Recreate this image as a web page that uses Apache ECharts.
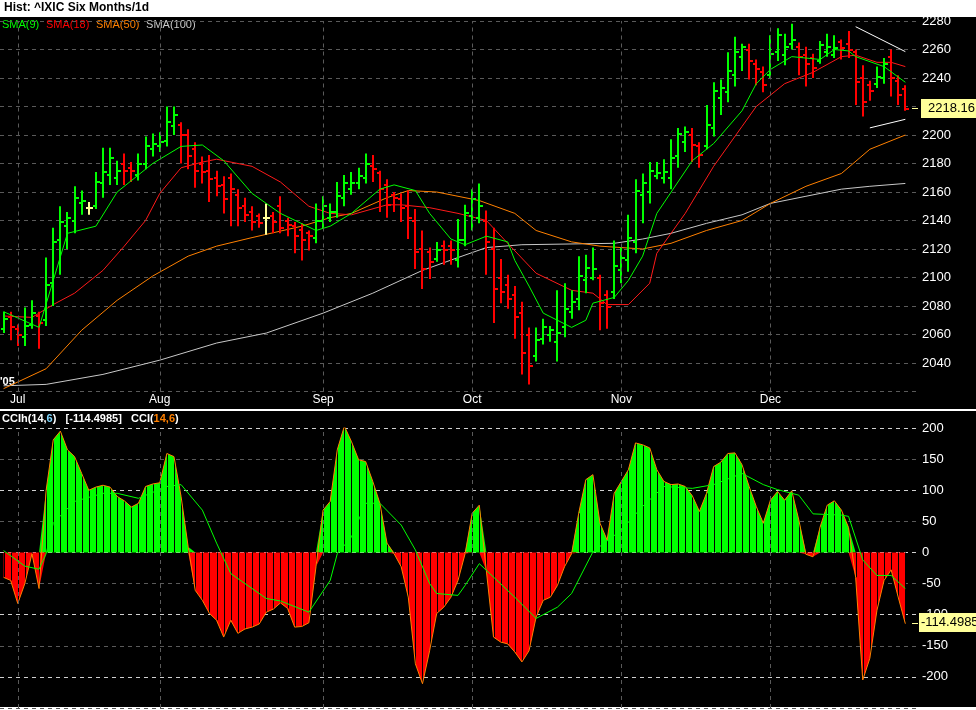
<!DOCTYPE html>
<html><head><meta charset="utf-8">
<script src="https://cdn.jsdelivr.net/npm/echarts@6/dist/echarts.min.js"></script>
<style>html,body{margin:0;padding:0;background:#fff;}#c{width:976px;height:710px;}</style>
</head><body><div id="c"></div>
<script>
// ---- DATA ----
const monthStarts = [2, 22, 45, 66, 87, 108];
const monthNames = ['Jul', 'Aug', 'Sep', 'Oct', 'Nov', 'Dec'];
const opens = [2064,2072,2064,2058,2067,2073,2070,2096,2126,2136,2140,2152,2149,2150,2166,2172,2170,2180,2177,2172,2180,2190,2192,2196,2206,2207,2200,2190,2180,2175,2170,2165,2170,2158,2150,2146,2143,2142,2143,2150,2140,2136,2133,2131,2128,2140,2142,2146,2156,2162,2166,2170,2178,2173,2165,2158,2155,2150,2140,2120,2118,2113,2122,2122,2112,2126,2143,2142,2140,2120,2100,2095,2088,2075,2060,2045,2057,2060,2055,2065,2076,2085,2098,2100,2100,2088,2090,2105,2112,2125,2158,2160,2171,2170,2170,2185,2195,2200,2192,2192,2205,2226,2230,2242,2255,2260,2250,2244,2242,2258,2256,2264,2262,2256,2254,2252,2258,2256,2265,2264,2258,2240,2235,2236,2240,2255,2238,2232];
const highs = [2076,2076,2067,2079,2084,2076,2114,2135,2150,2146,2164,2161,2153,2174,2191,2191,2182,2187,2181,2187,2199,2201,2202,2220,2220,2209,2204,2195,2185,2186,2175,2171,2173,2162,2156,2150,2145,2152,2146,2157,2142,2139,2138,2133,2152,2157,2152,2167,2172,2174,2177,2187,2186,2175,2169,2160,2159,2161,2148,2133,2121,2125,2126,2126,2141,2151,2162,2166,2147,2135,2113,2102,2094,2083,2065,2065,2071,2066,2091,2096,2091,2115,2116,2121,2102,2091,2126,2121,2144,2169,2173,2181,2181,2183,2197,2205,2206,2205,2195,2221,2237,2239,2258,2269,2264,2264,2253,2248,2270,2275,2271,2278,2265,2262,2257,2266,2271,2270,2267,2273,2260,2249,2238,2248,2254,2260,2242,2235];
const lows = [2061,2056,2052,2052,2064,2050,2066,2080,2102,2120,2131,2144,2144,2148,2156,2165,2165,2165,2167,2168,2176,2185,2188,2192,2200,2180,2176,2163,2166,2153,2157,2145,2136,2136,2139,2133,2135,2130,2131,2131,2129,2117,2112,2119,2124,2134,2139,2142,2150,2158,2162,2166,2167,2146,2142,2146,2139,2127,2106,2092,2099,2111,2109,2109,2107,2122,2133,2138,2102,2068,2082,2078,2057,2032,2025,2041,2053,2055,2041,2058,2071,2077,2089,2098,2063,2064,2085,2096,2104,2117,2138,2152,2169,2166,2162,2177,2188,2181,2177,2190,2199,2214,2223,2234,2245,2239,2235,2230,2240,2252,2249,2260,2242,2234,2240,2250,2255,2254,2253,2254,2221,2213,2224,2233,2236,2227,2221,2217];
const closes = [2071,2065,2060,2066,2075,2068,2095,2125,2139,2142,2156,2154,2149,2167,2174,2184,2175,2175,2175,2180,2192,2194,2195,2209,2214,2200,2185,2175,2174,2169,2164,2155,2162,2149,2144,2139,2138,2142,2139,2135,2137,2129,2126,2129,2140,2150,2146,2157,2166,2166,2171,2180,2176,2162,2151,2156,2149,2142,2118,2106,2111,2119,2119,2119,2126,2145,2155,2150,2125,2092,2090,2085,2072,2047,2038,2056,2065,2063,2061,2078,2083,2101,2107,2106,2082,2079,2108,2114,2128,2161,2166,2175,2173,2174,2184,2201,2202,2193,2186,2207,2231,2233,2245,2258,2262,2252,2246,2235,2257,2270,2262,2267,2255,2250,2247,2263,2262,2261,2261,2260,2237,2223,2231,2241,2250,2240,2228,2218.16];
const sma9 = [[0,2076],[5,2065],[9,2131],[13,2136],[16,2160],[21,2180],[25,2192],[28,2193],[31,2182],[35,2159],[39,2145],[44,2133],[46,2136],[49,2145],[53,2162],[55,2165],[58,2161],[60,2145],[63,2127],[65,2123],[68,2129],[71,2125],[72,2112],[74,2094],[76,2075],[80,2065],[82,2070],[83,2082],[86,2086],[88,2098],[90,2115],[92,2145],[97,2182],[100,2194],[104,2217],[106,2236],[108,2246],[111,2255],[115,2253],[117,2260],[119,2259],[120,2255],[124,2248],[127,2237]];
const sma18 = [[0,2073],[4,2072],[7,2081],[10,2089],[14,2105],[17,2122],[20,2140],[22,2159],[25,2177],[28,2181],[30,2183],[35,2178],[39,2167],[43,2150],[46,2145],[49,2144],[54,2151],[56,2151],[60,2149],[64,2145],[68,2140],[71,2124],[75,2103],[80,2091],[83,2089],[85,2081],[88,2081],[91,2096],[92,2117],[96,2145],[100,2178],[104,2206],[106,2220],[110,2236],[114,2244],[118,2255],[120,2256],[123,2251],[125,2251],[127,2248]];
const sma50 = [[0,2022],[6,2036],[11,2063],[16,2084],[21,2101],[26,2115],[30,2122],[35,2128],[42,2136],[46,2142],[49,2145],[54,2156],[57,2161],[61,2160],[67,2154],[72,2145],[75,2133],[80,2125],[84,2122],[90,2120],[94,2124],[99,2133],[104,2140],[108,2152],[113,2164],[118,2173],[122,2190],[127,2200]];
const sma100 = [[0,2024],[6,2025],[14,2032],[22,2042],[30,2054],[37,2061],[45,2075],[52,2089],[59,2105],[64,2114],[68,2121],[73,2123],[86,2124],[90,2127],[94,2131],[99,2138],[104,2144],[108,2152],[113,2157],[118,2162],[122,2164],[127,2166]];
const trendUpper = [[120,2276],[127,2258.5]];
const trendLower = [[122,2205],[127,2211]];
const cci = [-40,-45,-82,-50,-2,-58,100,181,195,165,154,127,100,105,108,105,90,83,73,79,106,110,112,159,154,90,9,-61,-77,-98,-109,-136,-109,-130,-123,-120,-115,-96,-91,-81,-90,-120,-119,-113,-23,68,82,165,203,178,149,146,114,79,15,-2,-23,-72,-179,-211,-158,-98,-88,-72,-45,-2,63,76,-30,-136,-144,-147,-160,-176,-158,-104,-77,-72,-53,-23,-2,63,117,125,47,20,95,114,133,176,173,168,133,114,109,110,106,91,66,95,138,145,159,160,141,106,74,47,84,98,84,99,52,-3,-7,41,76,83,68,40,-40,-205,-170,-93,-45,-28,-72,-114.4985];
const cciSignal = [[0,3],[3,-22],[5,-27],[6,-2],[7,47],[10,82],[14,95],[16,95],[19,87],[23,106],[25,109],[28,68],[30,15],[32,-34],[35,-58],[37,-74],[39,-78],[43,-96],[46,-45],[47,-2],[49,25],[51,79],[53,79],[56,44],[58,4],[60,-50],[61,-66],[64,-69],[65,-53],[67,-18],[72,-72],[75,-106],[78,-88],[80,-66],[83,1],[87,36],[90,74],[93,106],[97,103],[100,109],[104,127],[107,109],[109,101],[112,92],[114,62],[118,60],[119,58],[121,-12],[123,-37],[125,-37],[127,-58]];

// ---- BUILD ----
const N = closes.length;
const cats = [];
for (let i = 0; i <= N; i++) cats.push('');
monthStarts.forEach((s, k) => cats[s] = monthNames[k]);
const ohlc = closes.map((c, i) => [i, opens[i], highs[i], lows[i], c]);
const cciData = cci.map((v, i) => [i, v]);
const cciPos = cci.map((v, i) => [i, Math.max(v, 0)]);
const cciNeg = cci.map((v, i) => [i, Math.min(v, 0)]);
const UP = '#00ff00', DN = '#ff0000', EQ = '#ffff99';
const FONT = 'Liberation Sans, Arial, sans-serif';
const mlStyle = {silent: true, symbol: 'none', label: {show: false},
  lineStyle: {color: '#5a5a5a', type: [4, 4], width: 1}, data: monthStarts.map(s => ({xAxis: s}))};

const chart = echarts.init(document.getElementById('c'));
chart.setOption({
  backgroundColor: '#ffffff',
  animation: false,
  graphic: [
    {type: 'rect', shape: {x: 0, y: 17, width: 976, height: 690}, style: {fill: '#000'}, z: -10, silent: true},
    {type: 'rect', shape: {x: 0, y: 409, width: 976, height: 2}, style: {fill: '#fff'}, z: 10},
    {type: 'text', left: 4, top: 2, style: {text: 'Hist: ^IXIC Six Months/1d', font: 'bold 12px ' + FONT, fill: '#000'}},
    {type: 'text', left: 2, top: 19, style: {rich: {
      g: {fill: UP, font: '11px ' + FONT}, r: {fill: DN, font: '11px ' + FONT},
      o: {fill: '#ff8000', font: '11px ' + FONT}, w: {fill: '#c8c8c8', font: '11px ' + FONT}},
      text: '{g|SMA(9)}  {r|SMA(18)}  {o|SMA(50)}  {w|SMA(100)}'}},
    {type: 'text', left: 0, top: 376, style: {text: "'05", font: 'bold 11px ' + FONT, fill: '#fff'}},
    {type: 'text', left: 2, top: 413, style: {rich: {
      w: {fill: '#fff', font: 'bold 11px ' + FONT}, b: {fill: '#80d8ff', font: 'bold 11px ' + FONT},
      o: {fill: '#ff8000', font: 'bold 11px ' + FONT}},
      text: '{w|CCIh(14,}{b|6}{w|)   [-114.4985]   CCI(}{o|14,6}{w|)}'}},
    {type: 'rect', shape: {x: 912, y: 108, width: 6, height: 1}, style: {fill: '#ffff99'}, z: 20},
    {type: 'rect', shape: {x: 921, y: 99, width: 55, height: 19}, style: {fill: '#ffff99'}, z: 20},
    {type: 'text', left: 928, top: 102, z: 21, style: {text: '2218.16', font: '13px ' + FONT, fill: '#000'}},
    {type: 'rect', shape: {x: 912, y: 623, width: 6, height: 1}, style: {fill: '#ffff99'}, z: 20},
    {type: 'rect', shape: {x: 919, y: 613, width: 57, height: 19}, style: {fill: '#ffff99'}, z: 20},
    {type: 'text', left: 921, top: 616, z: 21, style: {text: '-114.4985', font: '13px ' + FONT, fill: '#000'}}
  ],
  grid: [
    {left: 0, right: 60, top: 21, height: 370.5},
    {left: 0, right: 60, top: 428, height: 280}
  ],
  xAxis: [
    {type: 'category', gridIndex: 0, data: cats, boundaryGap: true,
     axisLine: {show: false}, axisTick: {show: false}, splitLine: {show: false},
     axisLabel: {interval: 0, color: '#fff', fontFamily: FONT, fontSize: 12, margin: 2}},
    {type: 'category', gridIndex: 1, data: cats, boundaryGap: true,
     axisLine: {show: false}, axisTick: {show: false}, axisLabel: {show: false}, splitLine: {show: false}}
  ],
  yAxis: [
    {type: 'value', gridIndex: 0, position: 'right', min: 2020, max: 2280, interval: 20,
     axisLine: {show: false}, axisTick: {show: false},
     axisLabel: {showMinLabel: false, color: '#fff', fontFamily: FONT, fontSize: 13, margin: 6, formatter: v => String(v)},
     splitLine: {lineStyle: {color: '#5a5a5a', type: [4, 4]}}},
    {type: 'value', gridIndex: 1, position: 'right', min: -250, max: 200, interval: 50,
     axisLine: {show: false}, axisTick: {show: false},
     axisLabel: {showMinLabel: false, color: '#fff', fontFamily: FONT, fontSize: 13, margin: 6, formatter: v => String(v)},
     splitLine: {lineStyle: {color: ['#5a5a5a', '#d0d0d0'], type: [4, 4]}}}
  ],
  series: [
    {type: 'line', xAxisIndex: 0, yAxisIndex: 0, data: sma100, symbol: 'none', lineStyle: {color: '#c8c8c8', width: 1}, markLine: mlStyle, z: 2},
    {type: 'line', xAxisIndex: 0, yAxisIndex: 0, data: sma50, symbol: 'none', lineStyle: {color: '#ff8000', width: 1}, z: 2},
    {type: 'line', xAxisIndex: 0, yAxisIndex: 0, data: sma18, symbol: 'none', lineStyle: {color: '#ff1a1a', width: 1}, z: 2},
    {type: 'custom', xAxisIndex: 0, yAxisIndex: 0, data: ohlc, encode: {x: 0, y: [1, 2, 3, 4]}, z: 3,
     renderItem: function (params, api) {
       const i = api.value(0), o = api.value(1), h = api.value(2), l = api.value(3), c = api.value(4);
       const pH = api.coord([i, h]), pL = api.coord([i, l]), pO = api.coord([i, o]), pC = api.coord([i, c]);
       const col = c > o ? UP : (c < o ? DN : EQ);
       const x = Math.round(pH[0]);
       const st = {stroke: col, lineWidth: 2};
       return {type: 'group', children: [
         {type: 'line', shape: {x1: x, y1: pH[1], x2: x, y2: pL[1]}, style: st},
         {type: 'line', shape: {x1: x - 3, y1: Math.round(pO[1]), x2: x, y2: Math.round(pO[1])}, style: st},
         {type: 'line', shape: {x1: x, y1: Math.round(pC[1]), x2: x + 4, y2: Math.round(pC[1])}, style: st}
       ]};
     }},
    {type: 'line', xAxisIndex: 0, yAxisIndex: 0, data: sma9, symbol: 'none', lineStyle: {color: UP, width: 1}, z: 4},
    {type: 'line', xAxisIndex: 0, yAxisIndex: 0, data: trendUpper, symbol: 'none', lineStyle: {color: '#fff', width: 1}, z: 4},
    {type: 'line', xAxisIndex: 0, yAxisIndex: 0, data: trendLower, symbol: 'none', lineStyle: {color: '#fff', width: 1}, z: 4},
    {type: 'line', xAxisIndex: 1, yAxisIndex: 1, data: cciPos, symbol: 'none', lineStyle: {width: 0},
     areaStyle: {color: UP, opacity: 1, origin: 0}, markLine: mlStyle, z: 2},
    {type: 'line', xAxisIndex: 1, yAxisIndex: 1, data: cciNeg, symbol: 'none', lineStyle: {width: 0},
     areaStyle: {color: DN, opacity: 1, origin: 0}, z: 2},
    {type: 'custom', xAxisIndex: 1, yAxisIndex: 1, data: cciData, encode: {x: 0, y: 1}, z: 3,
     renderItem: function (params, api) {
       const p = api.coord([api.value(0), api.value(1)]), z0 = api.coord([api.value(0), 0]);
       const x = Math.round(p[0]) + 0.5;
       return {type: 'line', shape: {x1: x, y1: z0[1], x2: x, y2: p[1]}, style: {stroke: '#000', lineWidth: 1}};
     }},
    {type: 'line', xAxisIndex: 1, yAxisIndex: 1, data: cciData, symbol: 'none', lineStyle: {color: '#ff8000', width: 1}, z: 4},
    {type: 'line', xAxisIndex: 1, yAxisIndex: 1, data: cciSignal, symbol: 'none', lineStyle: {color: UP, width: 1}, z: 5}
  ]
});
</script></body></html>
